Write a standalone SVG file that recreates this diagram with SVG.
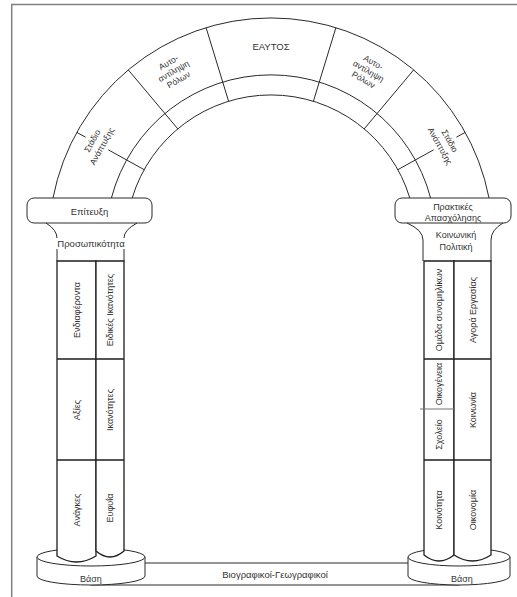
<svg xmlns="http://www.w3.org/2000/svg" width="517" height="597" viewBox="0 0 517 597">
<style>
.ln{fill:none;stroke:#2a2a2a;stroke-width:1}
.pl{fill:#fff;stroke:#1e1e1e;stroke-width:1.3}
.bx{fill:#fff;stroke:#2a2a2a;stroke-width:1}
text{font-family:"Liberation Sans",Arial,sans-serif;fill:#333;text-anchor:middle;dominant-baseline:central}
.t8{font-size:8.5px}
.t9{font-size:9px}
.t10{font-size:9.5px}
</style>
<rect width="517" height="597" fill="#fff"/>
<g id="frame"><path d="M11,4.5 H517 M11.7,4 V597" fill="none" stroke="#808080" stroke-width="1.5"/></g>

<g id="arch">
<path class="ln" d="M53,198 A222,222 0 0 1 489,198"/>
<path class="ln" d="M111.4,198 A165,165 0 0 1 430.6,198"/>
<path class="ln" d="M132.2,198 A145,145 0 0 1 409.8,198"/>
</g>

<g id="connectors">
<path class="ln" d="M206.1,27.7 L228.6,101.3 M335.9,27.7 L313.4,101.3"/>
<path class="ln" d="M128.3,69.9 L177.8,128.9 M413.7,69.9 L364.2,128.9"/>
<path class="ln" d="M76.8,132.4 L85.6,137.2 M108.3,149.8 L144.2,169.7"/>
<path class="ln" d="M465.2,132.4 L456.4,137.2 M433.7,149.8 L397.8,169.7"/>
</g>

<g id="eaytos"><text class="t10" x="271" y="46">ΕΑΥΤΟΣ</text></g>
<g id="role-left" transform="translate(173.5,71) rotate(-30)">
<text class="t8" x="0" y="-10">Αυτο-</text>
<text class="t8" x="0" y="0">αντίληψη</text>
<text class="t8" x="0" y="10">Ρόλων</text>
</g>
<g id="role-right" transform="translate(368.5,71) rotate(30)">
<text class="t8" x="0" y="-10">Αυτο-</text>
<text class="t8" x="0" y="0">αντίληψη</text>
<text class="t8" x="0" y="10">Ρόλων</text>
</g>
<g id="stage-left" transform="translate(97,143.5) rotate(-61)">
<text class="t8" x="0" y="-5.5">Στάδιο</text>
<text class="t8" x="0" y="5.5">Ανάπτυξης</text>
</g>
<g id="stage-right" transform="translate(445,143.5) rotate(61)">
<text class="t8" x="0" y="-5.5">Στάδιο</text>
<text class="t8" x="0" y="5.5">Ανάπτυξης</text>
</g>

<g id="capital-left">
<rect class="bx" x="27" y="198" width="125" height="25" rx="7"/>
<text class="t10" x="89.5" y="211">Επίτευξη</text>
<path class="ln" d="M46,223 Q57,230 57,238 M137,223 Q124,230 124,238 M57,249 V261 M124,249 V261"/>
<text class="t10" x="91" y="243">Προσωπικότητα</text>
</g>
<g id="capital-right">
<rect class="bx" x="395" y="198" width="116" height="25" rx="7"/>
<text class="t9" x="453" y="207">Πρακτικές</text>
<text class="t9" x="453" y="218">Απασχόλησης</text>
<path class="ln" d="M407,223 Q423,230 423,240 V261 M503,223 Q491,230 491,240 V261"/>
<text class="t9" x="456" y="235">Κοινωνική</text>
<text class="t9" x="456" y="247">Πολιτική</text>
</g>

<g id="band">
<rect x="91" y="563" width="368" height="22" fill="#fff" stroke="#2a2a2a" stroke-width="1"/>
<text class="t10" x="275" y="574">Βιογραφικοί-Γεωγραφικοί</text>
</g>

<g id="base-left">
<path class="bx" d="M37,557 V576 A54,9 0 0 0 145,576 V557"/>
<ellipse class="bx" cx="91" cy="557" rx="54" ry="9"/>
<text class="t9" x="91" y="579">Βάση</text>
</g>
<g id="base-right">
<path class="bx" d="M408,557 V576 A51,9 0 0 0 510,576 V557"/>
<ellipse class="bx" cx="459" cy="557" rx="51" ry="9"/>
<text class="t9" x="462" y="579">Βάση</text>
</g>

<g id="pillar-left">
<path class="pl" d="M57,261 H96 V556 Q76.5,568 57,556 Z"/>
<path class="pl" d="M96,261 H124 V551 Q110,563 96,551 Z"/>
<path class="pl" d="M57,359 H124 M57,460 H124"/>
<text class="t9" transform="translate(76.5,310) rotate(-90)">Ενδιαφέροντα</text>
<text class="t9" transform="translate(76.5,410) rotate(-90)">Αξίες</text>
<text class="t9" transform="translate(76.5,510) rotate(-90)">Ανάγκες</text>
<text class="t9" transform="translate(110,310) rotate(-90)">Ειδικές Ικανότητες</text>
<text class="t9" transform="translate(110,410) rotate(-90)">Ικανότητες</text>
<text class="t9" transform="translate(110,508) rotate(-90)">Ευφυΐα</text>
</g>

<g id="pillar-right">
<path class="pl" d="M424,261 H454 V555 Q439,567 424,555 Z"/>
<path class="pl" d="M454,261 H491 V555 Q472.5,567 454,555 Z"/>
<path class="pl" d="M424,359 H491 M424,460 H491"/>
<path d="M420,409 H454" stroke="#777" stroke-width="1.2"/>
<text class="t9" transform="translate(439,310) rotate(-90)">Ομάδα συνομηλίκων</text>
<text class="t9" transform="translate(439,384) rotate(-90)">Οικογένεια</text>
<text class="t9" transform="translate(439,434.5) rotate(-90)">Σχολείο</text>
<text class="t9" transform="translate(439,510) rotate(-90)">Κοινότητα</text>
<text class="t9" transform="translate(472.5,310) rotate(-90)">Αγορά Εργασίας</text>
<text class="t9" transform="translate(472.5,410) rotate(-90)">Κοινωνία</text>
<text class="t9" transform="translate(472.5,510) rotate(-90)">Οικονομία</text>
</g>
</svg>
